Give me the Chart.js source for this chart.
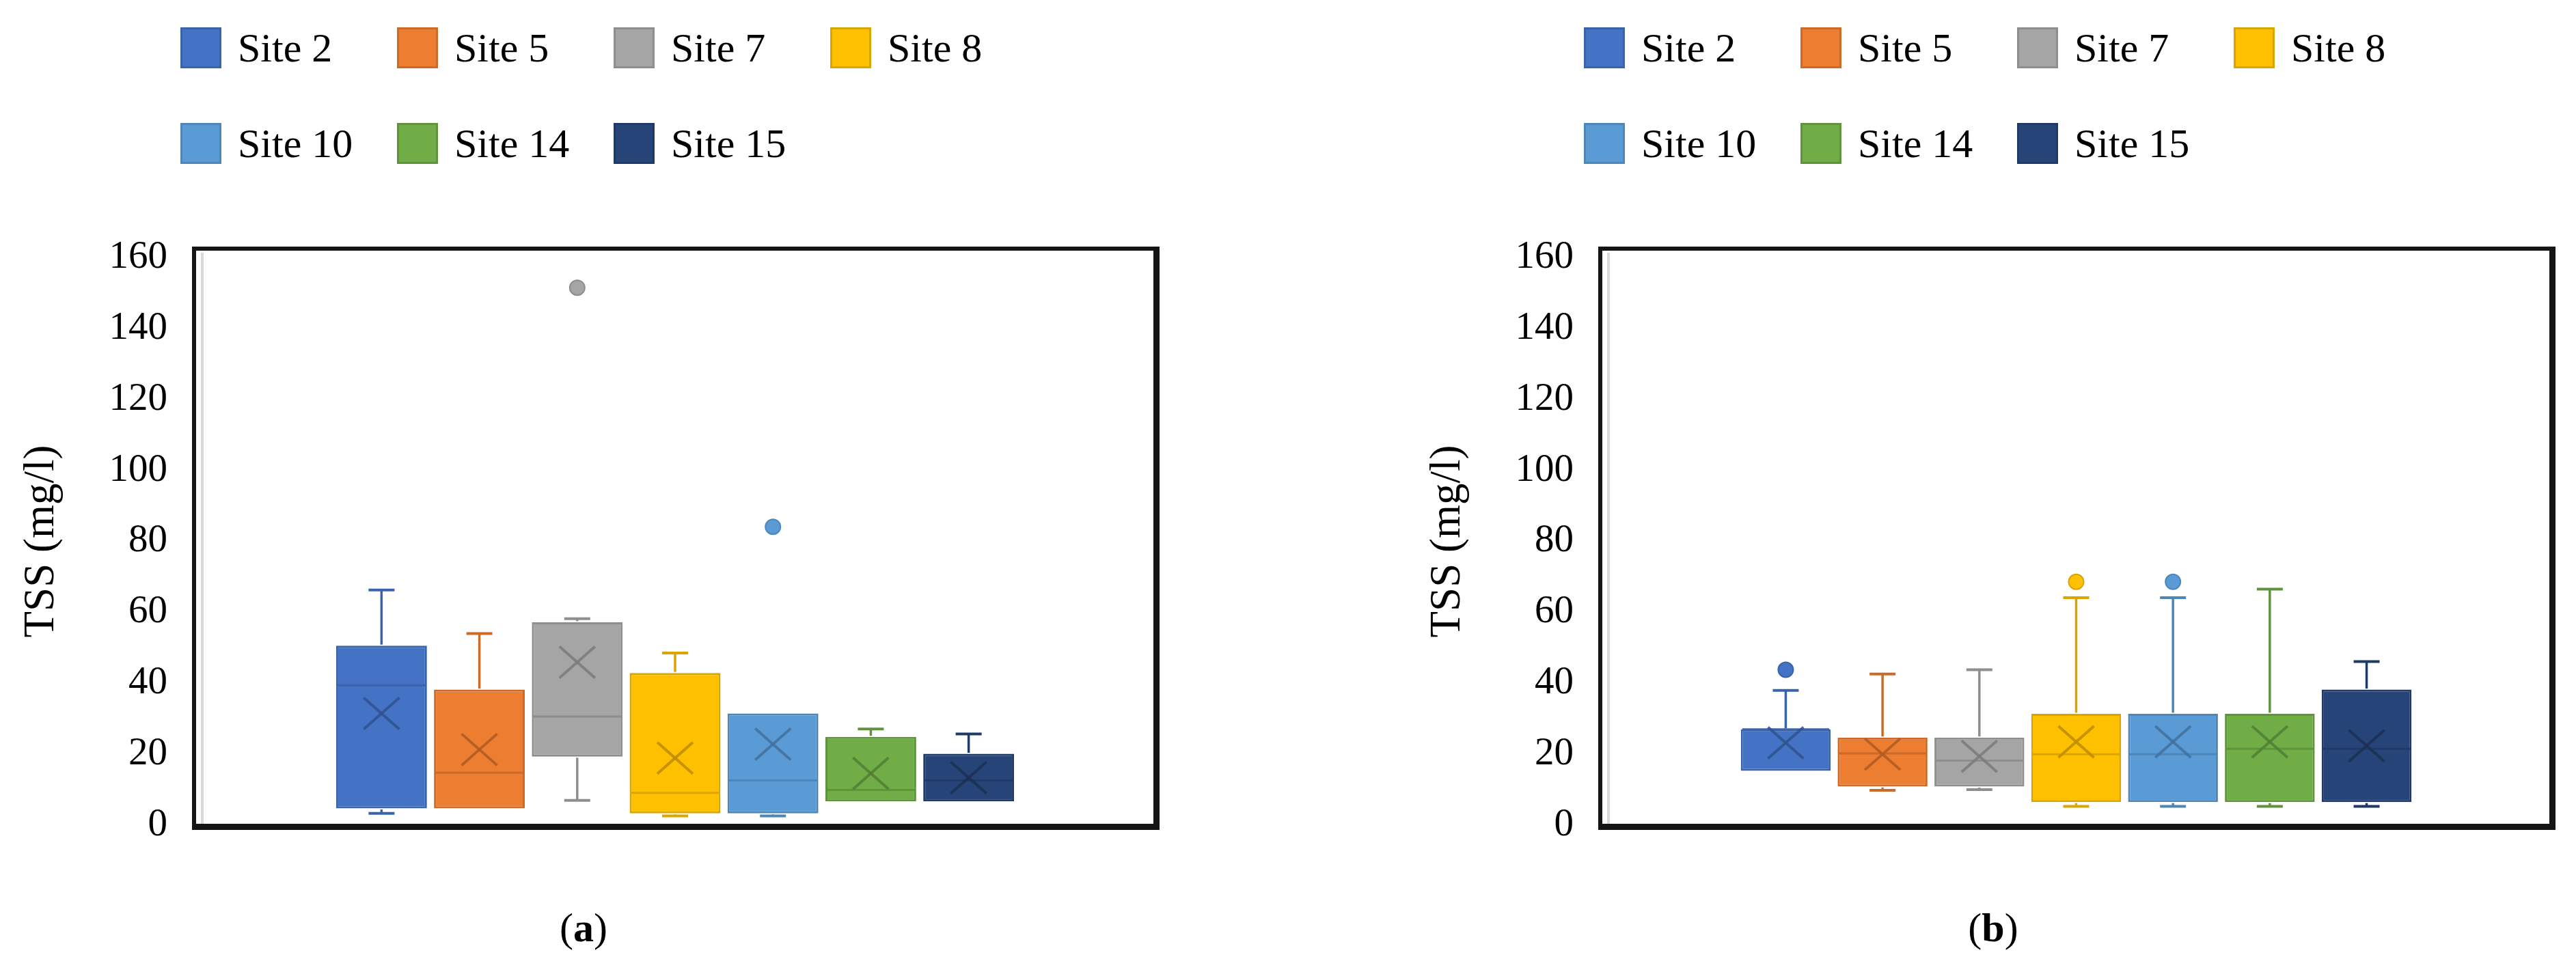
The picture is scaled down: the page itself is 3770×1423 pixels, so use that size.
<!DOCTYPE html>
<html>
<head>
<meta charset="utf-8">
<script src="https://cdn.jsdelivr.net/npm/chart.js@4.4.1/dist/chart.umd.min.js"></script>
<style>
html,body{margin:0;padding:0;background:#fff;}
body{width:3770px;height:1423px;position:relative;overflow:hidden;font-family:'Liberation Serif','Times New Roman',serif;}
.wrap{position:absolute;top:0;height:1300px;}
.legend{position:absolute;top:40px;display:grid;grid-template-columns:repeat(4,317px);grid-auto-rows:60px;row-gap:80px;}
.item{display:flex;align-items:center;font-size:60px;color:#000;white-space:nowrap;line-height:1;}
.swatch{width:54px;height:54px;border:3px solid;margin-right:24px;flex:none;}
.cap{position:absolute;top:1328px;font-size:60px;line-height:1;color:#000;transform:translateX(-50%);}
</style>
</head>
<body>
<div class="wrap" id="wrapA" style="left:0;width:1885px;"><canvas id="chartA"></canvas></div>
<div class="wrap" id="wrapB" style="left:2058px;width:1712px;"><canvas id="chartB"></canvas></div>
<div class="legend" id="legA" style="left:264px;"></div>
<div class="legend" id="legB" style="left:2318px;"></div>
<div class="cap" style="left:854px;">(<b>a</b>)</div>
<div class="cap" style="left:2917px;">(<b>b</b>)</div>
<script>
// ---- data ----
const sites = ['Site 2', 'Site 5', 'Site 7', 'Site 8', 'Site 10', 'Site 14', 'Site 15'];
const yTicks = [0, 20, 40, 60, 80, 100, 120, 140, 160];

// panel (a)
const aMin    = [3.3, 4.7, 7.0, 2.6, 2.6, 6.7, 6.7];
const aQ1     = [4.7, 4.7, 19.3, 3.3, 3.3, 6.7, 6.7];
const aMedian = [39.4, 14.8, 30.6, 9.1, 12.6, 9.9, 12.6];
const aMean   = [31.5, 21.3, 45.9, 18.9, 22.8, 14.6, 13.4];
const aQ3     = [50.6, 38.2, 57.2, 42.9, 31.5, 24.9, 20.1];
const aMax    = [66.3, 54.0, 58.2, 48.5, 31.5, 27.1, 25.7];
const aOut    = [[], [], [151.5], [], [84.1], [], []];

// panel (b)
const bMin    = [15.3, 9.8, 10.0, 5.3, 5.3, 5.3, 5.3];
const bQ1     = [15.3, 10.9, 10.9, 6.5, 6.5, 6.5, 6.5];
const bMedian = [27.0, 20.2, 18.2, 20.0, 20.0, 21.5, 21.5];
const bMean   = [23.2, 20.0, 19.4, 23.5, 23.5, 23.5, 22.4];
const bQ3     = [27.0, 24.7, 24.7, 31.4, 31.4, 31.4, 38.2];
const bMax    = [38.0, 42.6, 43.8, 64.1, 64.1, 66.5, 46.1];
const bOut    = [[43.8], [], [], [68.6], [68.6], [], []];

// ---- styles ----
const fills = ['#4472C4', '#ED7D31', '#A5A5A5', '#FFC000', '#5B9BD5', '#70AD47', '#264478'];
const edges = ['#3A63AD', '#CC6A28', '#8E8E8E', '#DBA500', '#4E86B8', '#5F943C', '#1F3A66'];
const marks = ['#2F528F', '#AE5A21', '#7A7A7A', '#BC8C00', '#41719C', '#507E32', '#1B2F53'];

function buildLegend(id) {
  const el = document.getElementById(id);
  sites.forEach((s, i) => {
    const it = document.createElement('div');
    it.className = 'item';
    const sw = document.createElement('span');
    sw.className = 'swatch';
    sw.style.background = fills[i];
    sw.style.borderColor = edges[i];
    it.appendChild(sw);
    it.appendChild(document.createTextNode(s));
    el.appendChild(it);
  });
}
buildLegend('legA');
buildLegend('legB');

const framePlugin = {
  id: 'frame',
  beforeDatasetsDraw(chart) {
    const {ctx, chartArea: a} = chart;
    const L = a.left, R = a.right, T = a.top - 13, B = a.bottom + 2;
    ctx.save();
    ctx.fillStyle = '#d9d9d9';
    ctx.fillRect(L + 10, T + 6, 4, B - T - 10);
    ctx.fillStyle = '#151515';
    ctx.fillRect(L - 3, T - 3, R - L + 6, 6);
    ctx.fillRect(L - 3, T - 3, 6, B - T + 6);
    ctx.fillRect(R - 4, T - 3, 9, B - T + 8);
    ctx.fillRect(L - 3, B - 4, R - L + 8, 9);
    ctx.restore();
  }
};

function detailsPlugin(d) {
  return {
    id: 'boxDetails',
    afterDatasetsDraw(chart) {
      const ctx = chart.ctx, y = chart.scales.y;
      const line = (x1, y1, x2, y2) => { ctx.beginPath(); ctx.moveTo(x1, y1); ctx.lineTo(x2, y2); ctx.stroke(); };
      ctx.save();
      sites.forEach((s, i) => {
        const el = chart.getDatasetMeta(i).data[0];
        const x = el.x, hw = el.width / 2;
        const yq1 = y.getPixelForValue(d.q1[i]);
        const yq3 = y.getPixelForValue(d.q3[i]);
        const ymin = y.getPixelForValue(d.min[i]);
        const ymax = y.getPixelForValue(d.max[i]);
        const ymed = y.getPixelForValue(d.med[i]);
        const ymean = y.getPixelForValue(d.mean[i]);
        ctx.strokeStyle = edges[i];
        ctx.lineCap = 'butt';
        if (d.max[i] > d.q3[i]) {
          ctx.lineWidth = 3.5; line(x, yq3 - 1.5, x, ymax);
          ctx.lineWidth = 4; line(x - 19, ymax, x + 19, ymax);
        }
        if (d.min[i] < d.q1[i]) {
          ctx.lineWidth = 3.5; line(x, yq1 + 1.5, x, ymin);
          ctx.lineWidth = 4; line(x - 19, ymin, x + 19, ymin);
        }
        ctx.lineWidth = 3;
        line(x - hw + 2, ymed, x + hw - 2, ymed);
        ctx.strokeStyle = marks[i];
        ctx.globalAlpha = 0.85;
        ctx.lineWidth = 4;
        line(x - 26, ymean - 23, x + 26, ymean + 23);
        line(x - 26, ymean + 23, x + 26, ymean - 23);
        ctx.globalAlpha = 1;
        d.out[i].forEach(v => {
          const yo = y.getPixelForValue(v);
          ctx.beginPath();
          ctx.arc(x, yo, 11, 0, Math.PI * 2);
          ctx.fillStyle = fills[i];
          ctx.fill();
          ctx.lineWidth = 2;
          ctx.strokeStyle = edges[i];
          ctx.stroke();
        });
      });
      ctx.restore();
    }
  };
}

function makeChart(id, d, padRight) {
  return new Chart(document.getElementById(id), {
    type: 'bar',
    data: {
      labels: [''],
      datasets: sites.map((s, i) => ({
        label: s,
        data: [[d.q1[i], d.q3[i]]],
        backgroundColor: fills[i],
        borderColor: edges[i],
        borderWidth: 3,
        borderSkipped: false,
        categoryPercentage: 0.712,
        barPercentage: 0.928
      }))
    },
    options: {
      responsive: true,
      maintainAspectRatio: false,
      animation: false,
      devicePixelRatio: 1,
      layout: {padding: {top: 377, bottom: 92, left: 0, right: padRight}},
      plugins: {legend: {display: false}, tooltip: {enabled: false}},
      scales: {
        x: {display: false},
        y: {
          min: 0, max: 160,
          afterFit: s => { s.width = 284; },
          afterBuildTicks: s => { s.ticks = yTicks.map(v => ({value: v})); },
          ticks: {padding: 39, color: '#000', font: {family: "'Liberation Serif'", size: 57}},
          grid: {display: false, drawTicks: false},
          border: {display: false},
          title: {
            display: true, text: 'TSS (mg/l)', color: '#000',
            font: {family: "'Liberation Serif'", size: 63, lineHeight: 1.2},
            padding: {top: 24, bottom: 0}
          }
        }
      }
    },
    plugins: [framePlugin, detailsPlugin(d)]
  });
}

makeChart('chartA', {min: aMin, q1: aQ1, med: aMedian, mean: aMean, q3: aQ3, max: aMax, out: aOut}, 193);
makeChart('chartB', {min: bMin, q1: bQ1, med: bMedian, mean: bMean, q3: bQ3, max: bMax, out: bOut}, 35);
</script>
</body>
</html>
